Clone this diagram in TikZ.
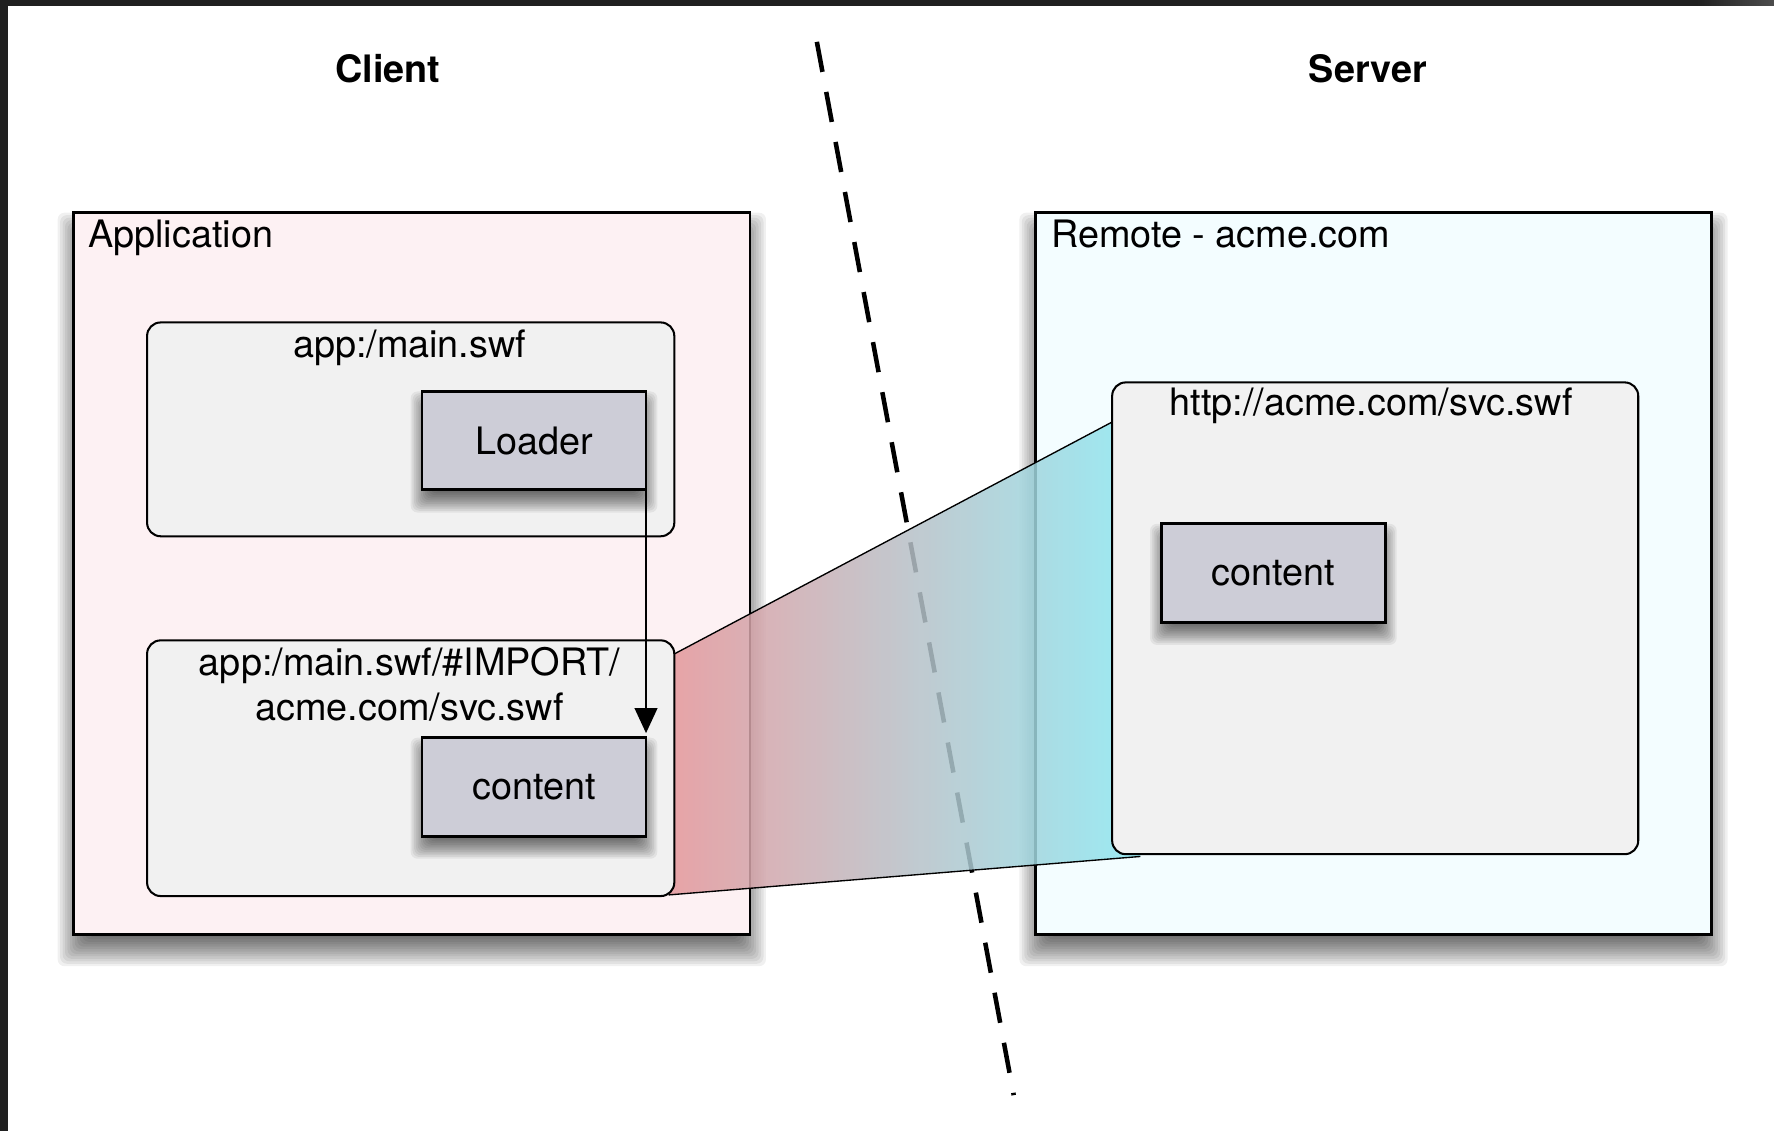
\documentclass[tikz,border=0pt]{standalone}
\usepackage{fontspec}
\setmainfont{TeX Gyre Heros}
\usetikzlibrary{arrows.meta,calc}

\definecolor{framedark}{HTML}{202020}
\definecolor{appfill}{RGB}{253,241,243}
\definecolor{remotefill}{RGB}{243,253,255}
\definecolor{swffill}{RGB}{241,241,241}
\definecolor{objfill}{RGB}{205,205,215}
\definecolor{bandpink}{RGB}{228,150,154}
\definecolor{bandcyan}{RGB}{140,232,242}

\pgfdeclarelayer{back}
\pgfdeclarelayer{front}
\pgfsetlayers{back,main,front}

% soft drop shadow under a named node: #1 node, #2 downward offset, #3 blur width
\newcommand\softshadow[3]{%
  \foreach \k in {0,...,13}{%
    \pgfmathsetmacro\sse{#3*(\k/13-0.5)}%
    \pgfmathsetmacro\ssn{-\sse}%
    \pgfmathsetmacro\sst{#2-\sse}%
    \pgfmathsetmacro\ssb{#2+\sse}%
    \fill[black, fill opacity=0.06, rounded corners=3pt]
      ($(#1.north west)+(\ssn,\sst)$) rectangle ($(#1.south east)+(\sse,\ssb)$);
  }}

\begin{document}
\begin{tikzpicture}[x=0.5pt,y=-0.5pt,
  every node/.style={font=\fontsize{16.7pt}{20pt}\selectfont, inner sep=0pt, outer sep=0pt},
  heading/.style={font=\fontsize{16.7pt}{20pt}\selectfont\bfseries},
  region/.style={draw=black, line width=1.2pt, minimum width=299pt, minimum height=319pt},
  swfbox/.style={draw=black, line width=0.9pt, rounded corners=6pt, fill=swffill},
  objbox/.style={draw=black, line width=1.3pt, fill=objfill,
    minimum width=99pt, minimum height=43.5pt},
  divider/.style={line width=2pt, dash pattern=on 13.5pt off 9pt},
  link/.style={line width=0.75pt, -{Triangle[length=11pt,width=10pt]}, shorten >=2pt}
]
\useasboundingbox (0,0) rectangle (1568,1000);

% outer regions
\node[region, fill=appfill] (app) at (364,507) {};
\node[region, fill=remotefill] (remote) at (1214,507) {};

\begin{pgfonlayer}{back}
  \fill[white] (0,0) rectangle (1568,1000);
  % window frame
  \fill[framedark] (0,0) rectangle (1568,5);
  \shade[left color=framedark, right color=black!70] (1500,0) rectangle (1568,5);
  \fill[framedark] (0,0) rectangle (7,1000);
  \softshadow{app}{14}{28}
  \softshadow{remote}{14}{28}
\end{pgfonlayer}

% headings
\node[heading, anchor=base] (client) at (343,73) {Client};
\node[heading, anchor=base] (server) at (1209,73) {Server};
\node[anchor=base west] (applabel) at (78,219) {Application};
\node[anchor=base west] (remotelabel) at (929,219) {Remote - acme.com};

% client/server divider
\coordinate (divtop) at (722,37);
\coordinate (divbot) at (896,968);
\draw[divider] (divtop) -- (divbot);

% import band between the two swf boxes
\coordinate (bandTL) at (596,578);
\coordinate (bandBL) at (591,791);
\coordinate (bandTR) at (983,373);
\coordinate (bandBR) at (1008,757);
\shade[left color=bandpink, right color=bandcyan, fill opacity=0.85]
  (bandTL) -- (bandTR) -- (bandBR) -- (bandBL) -- cycle;
\draw[line width=0.6pt] (bandTL) -- (bandTR) (bandBL) -- (bandBR);

% swf boxes
\node[swfbox, minimum width=233pt, minimum height=94.5pt] (mainswf) at (363,379.5) {};
\node[swfbox, minimum width=233pt, minimum height=113pt] (importswf) at (363,679) {};
\node[swfbox, minimum width=232.5pt, minimum height=208.5pt] (svcswf) at (1215.5,546.5) {};
\node[anchor=base] (mainlabel) at (362,316) {app:/main.swf};
\node[align=center] (importlabel) at (362,605) {app:/main.swf/\#IMPORT/\\acme.com/svc.swf};
\node[anchor=base] (svclabel) at (1212,367) {http://acme.com/svc.swf};

% display objects
\begin{pgfonlayer}{front}
  \node[objbox] (loader) at (472,389.5) {Loader};
  \node[objbox] (content1) at (472,695.5) {content};
  \node[objbox] (content2) at (1125.5,506.5) {content};
  % loader -> imported content
  \draw[link] (loader.south east) -- (content1.north east);
\end{pgfonlayer}
\softshadow{loader}{10}{20}
\softshadow{content1}{10}{20}
\softshadow{content2}{10}{20}
\end{tikzpicture}
\end{document}
